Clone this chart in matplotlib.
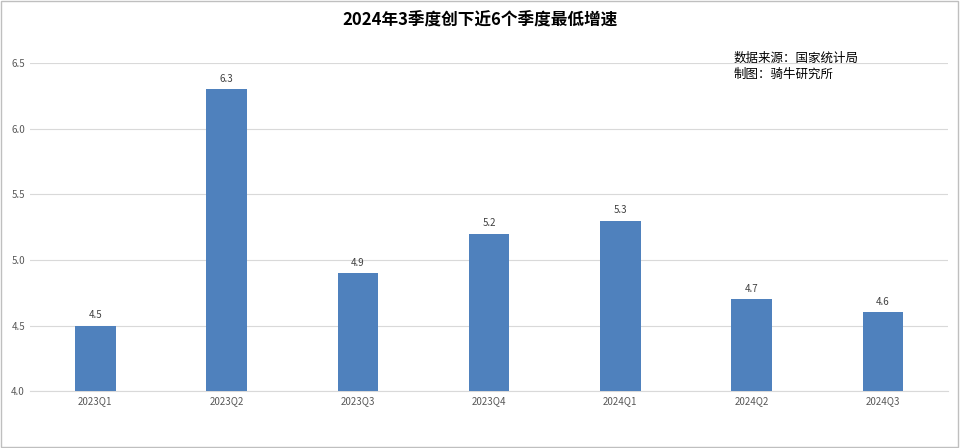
import matplotlib.pyplot as plt

plt.rcParams['font.family'] = ['Noto Sans CJK SC', 'DejaVu Sans']

quarters = ["2023Q1", "2023Q2", "2023Q3", "2023Q4", "2024Q1", "2024Q2", "2024Q3"]
growth = [4.5, 6.3, 4.9, 5.2, 5.3, 4.7, 4.6]
title = "2024年3季度创下近6个季度最低增速"
source = "数据来源：国家统计局\n制图：骑牛研究所"

fig = plt.figure(figsize=(9.6, 4.48), dpi=100)
ax = fig.add_axes([0.031, 0.127, 0.957, 0.732])

x = range(len(quarters))
bars = ax.bar(x, growth, width=0.31, color="#4F81BD", zorder=3)
for xi, v in zip(x, growth):
    ax.text(xi, v + 0.04, f"{v:.1f}", ha="center", va="bottom", fontsize=7, color="#404040")

ax.set_ylim(4.0, 6.5)
ax.set_xlim(-0.5, len(quarters) - 0.5)
ax.set_yticks([4.0, 4.5, 5.0, 5.5, 6.0, 6.5])
ax.yaxis.grid(True, color="#D9D9D9", lw=0.8, zorder=0)
ax.set_xticks(list(x))
ax.set_xticklabels(quarters)
ax.tick_params(axis="both", labelsize=7, colors="#595959", length=0)
for side in ["top", "right", "left"]:
    ax.spines[side].set_visible(False)
ax.spines["bottom"].set_color("#D9D9D9")

fig.text(0.5, 0.955, title, ha="center", va="center", fontsize=12, fontweight="bold")
fig.text(0.764, 0.885, source, ha="left", va="top", fontsize=9, linespacing=1.3)

fig.patches.append(plt.Rectangle((0.001, 0.002), 0.997, 0.995, transform=fig.transFigure,
                                 fill=False, edgecolor="#BFBFBF", lw=1))

fig.savefig("out.png", dpi=100)
